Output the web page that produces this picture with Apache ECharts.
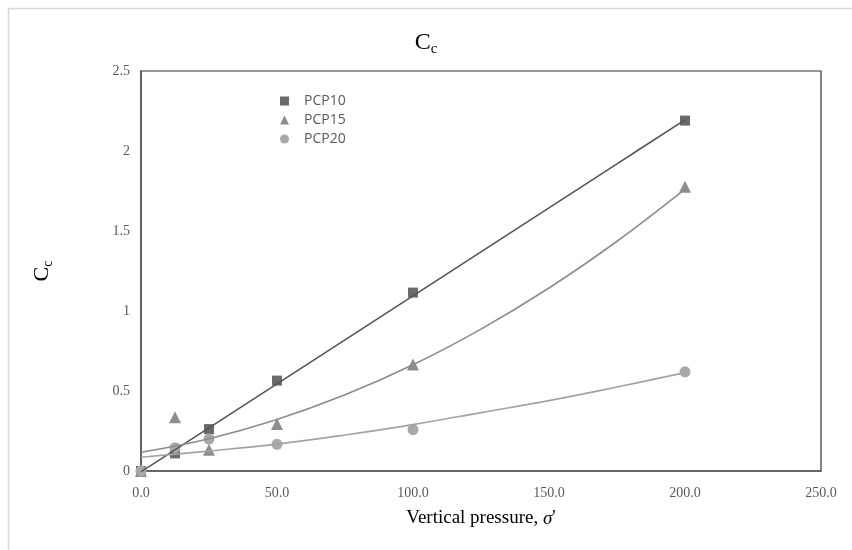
<!DOCTYPE html>
<html>
<head>
<meta charset="utf-8">
<script src="https://cdn.jsdelivr.net/npm/echarts@6/dist/echarts.min.js"></script>
<style>html,body{margin:0;padding:0;background:#fff}#c{width:852px;height:550px}</style>
</head>
<body>
<div id="c"></div>
<script>
// ---- data ----
const seriesNames = ['PCP10', 'PCP15', 'PCP20'];
const pressure = [0, 12.5, 25, 50, 100, 200];
const pcp10 = [0, 0.11, 0.262, 0.565, 1.115, 2.19];
const pcp15 = [0, 0.336, 0.133, 0.294, 0.665, 1.777];
const pcp20 = [0, 0.146, 0.2, 0.167, 0.258, 0.62];
// trend lines
const trendX = [0, 25, 50, 75, 100, 125, 150, 175, 200];
const trend10 = [-0.005, 0.27, 0.545, 0.82, 1.095, 1.37, 1.645, 1.92, 2.195];
const trend15 = [0.117, 0.202, 0.322, 0.476, 0.664, 0.887, 1.144, 1.436, 1.762];
const trend20 = [0.086, 0.125, 0.168, 0.225, 0.29, 0.365, 0.44, 0.525, 0.615];
const xTicks = [0, 50, 100, 150, 200, 250];
const yTicks = [0, 0.5, 1, 1.5, 2, 2.5];

const pair = (xs, ys) => xs.map((x, i) => [x, ys[i]]);
const serif = "'Liberation Serif','Times New Roman',serif";
const markerColors = ['#6a6a6a', '#8e8e8e', '#a8a8a8'];
const lineColors = ['#555555', '#8c8c8c', '#a3a3a3'];
const symbols = ['rect', 'triangle', 'circle'];
const sizes = [10, 12, 11];
const values = [pcp10, pcp15, pcp20];
const trends = [trend10, trend15, trend20];

const series = [];
seriesNames.forEach((n, i) => {
  series.push({
    name: n, type: 'scatter', data: pair(pressure, values[i]),
    symbol: symbols[i], symbolSize: sizes[i],
    itemStyle: { color: markerColors[i], opacity: 1 }, z: 2
  });
});
seriesNames.forEach((n, i) => {
  series.push({
    name: n + ' trend', type: 'line', data: pair(trendX, trends[i]),
    smooth: 0.4, showSymbol: false, symbol: 'none',
    lineStyle: { color: lineColors[i], width: 1.6 }, z: 3, silent: true
  });
});

const chart = echarts.init(document.getElementById('c'));
chart.setOption({
  backgroundColor: '#fff',
  animation: false,
  graphic: [{
    type: 'rect', shape: { x: 8.5, y: 8.5, width: 900, height: 600 },
    style: { fill: 'none', stroke: '#d9d9d9', lineWidth: 1.5 }, silent: true, z: -1
  }],
  title: {
    text: '{C|C}{s|c}', left: 'center', top: 26,
    textStyle: {
      fontWeight: 'normal',
      rich: {
        C: { fontFamily: serif, fontSize: 24, fontWeight: 'normal', color: '#000', verticalAlign: 'top', lineHeight: 32 },
        s: { fontFamily: serif, fontSize: 15, fontWeight: 'normal', color: '#000', verticalAlign: 'top', lineHeight: 32, padding: [11, 0, 0, 0] }
      }
    }
  },
  legend: {
    data: seriesNames, orient: 'vertical', left: 275, top: 89,
    itemWidth: 9, itemHeight: 9, itemGap: 5,
    textStyle: { fontFamily: "'Open Sans',sans-serif", fontSize: 14, color: '#595959', padding: [0, 0, 0, 10] }
  },
  grid: { left: 141, top: 71, right: 31, bottom: 79, show: true, borderColor: '#333', borderWidth: 1.2 },
  xAxis: {
    type: 'value', min: xTicks[0], max: xTicks[xTicks.length - 1], interval: 50,
    axisLine: { show: true, lineStyle: { color: '#555', width: 1.5 } },
    axisTick: { show: false }, splitLine: { show: false },
    axisLabel: { fontFamily: serif, fontSize: 14, color: '#595959', margin: 15, formatter: v => v.toFixed(1) },
    name: '{a|Vertical pressure, }{i|σ}{a|\'}', nameLocation: 'middle', nameGap: 38,
    nameTextStyle: {
      rich: {
        a: { fontFamily: serif, fontSize: 19, color: '#000' },
        i: { fontFamily: serif, fontSize: 19, color: '#000', fontStyle: 'italic' }
      }
    }
  },
  yAxis: {
    type: 'value', min: yTicks[0], max: yTicks[yTicks.length - 1], interval: 0.5,
    axisLine: { show: true, lineStyle: { color: '#555', width: 1.5 } },
    axisTick: { show: false }, splitLine: { show: false },
    axisLabel: { fontFamily: serif, fontSize: 14, color: '#595959', margin: 11, formatter: v => String(v) },
    name: '{C|C}{s|c}', nameLocation: 'middle', nameGap: 82, nameRotate: 90,
    nameTextStyle: {
      rich: {
        C: { fontFamily: serif, fontSize: 22, color: '#000', verticalAlign: 'top', lineHeight: 28 },
        s: { fontFamily: serif, fontSize: 14, color: '#000', verticalAlign: 'top', lineHeight: 28, padding: [10, 0, 0, 0] }
      }
    }
  },
  series: series
});
</script>
</body>
</html>
